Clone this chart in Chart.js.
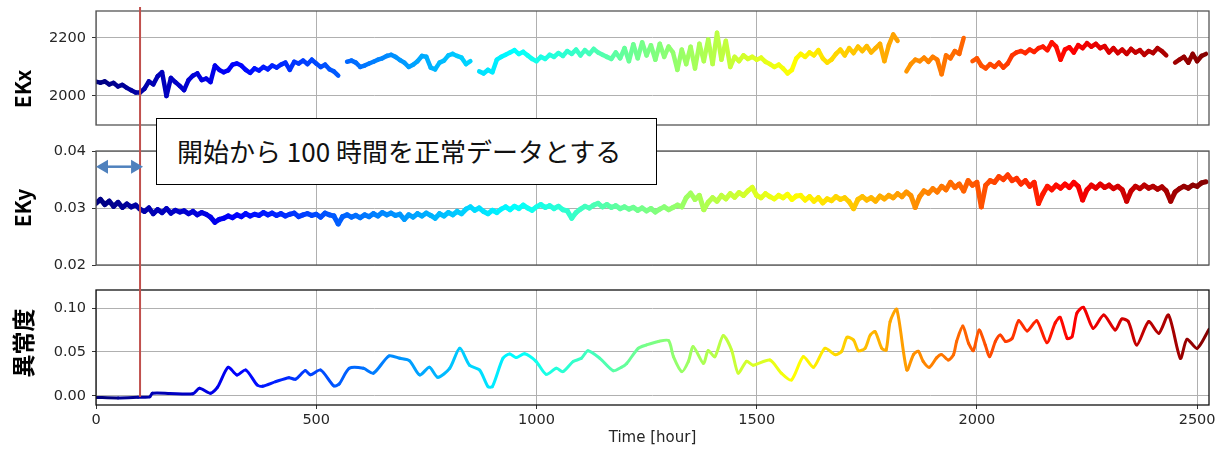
<!DOCTYPE html>
<html>
<head>
<meta charset="utf-8">
<script src="https://cdn.jsdelivr.net/npm/chart.js@4.4.0/dist/chart.umd.min.js"></script>
<style>
  body { margin: 0; background: #fff; }
  #wrap { position: relative; width: 1222px; height: 450px; overflow: hidden; }
  #wrap canvas { position: absolute; left: 0; }
  .ylab {
    position: absolute; left: 22px;
    font-family: "Noto Sans CJK JP", sans-serif; font-weight: bold; color: #000;
    transform: translate(-50%, -50%) rotate(-90deg); white-space: nowrap; line-height: 1;
  }
  #note {
    position: absolute; left: 156px; top: 118px; width: 501px; height: 67px;
    box-sizing: border-box; border: 1.5px solid #000; background: #fff;
    font-family: "Noto Sans CJK JP", sans-serif; font-size: 26px; line-height: 64px;
    padding-left: 20px; white-space: nowrap; color: #111;
  }
</style>
</head>
<body>
<div id="wrap">
  <canvas id="cEkx" width="1222" height="135" style="top:0"></canvas>
  <canvas id="cEky" width="1222" height="140" style="top:135px"></canvas>
  <canvas id="cAnom" width="1222" height="175" style="top:275px"></canvas>
  <div class="ylab" style="top:89px;font-size:21px">EKx</div>
  <div class="ylab" style="top:208px;font-size:21px">EKy</div>
  <div class="ylab" style="top:343px;font-size:23px">異常度</div>
  <div id="note">開始から 100 時間を正常データとする</div>
</div>
<script>
// sampling interval of the EKx / EKy records (hours)
const EK_STEP = 10;
const T_MAX = 2527;
const normalHours = 100;

const timeTicks = [0, 500, 1000, 1500, 2000, 2500];
const ekxTicks = [2000, 2200];
const ekyTicks = [0.02, 0.03, 0.04];
const anomTicks = [0, 0.05, 0.10];

const ekxValues = [
  2049,2046,2050,2040,2045,2033,2038,2028,2020,2012,
  2012,2025,2050,2040,2068,2082,2000,2062,2048,2035,
  2020,2055,2070,2078,2055,2060,2048,2105,2090,2082,
  2088,2108,2112,2105,2090,2080,2095,2088,2100,2092,
  2105,2098,2108,2115,2090,2118,2112,2122,2110,2125,
  2112,2100,2108,2092,2085,2070,null,2118,2122,2115,
  2100,2105,2112,2118,2125,2130,2138,2142,2135,2124,
  2115,2100,2108,2120,2138,2135,2098,2092,2115,2122,
  2140,2145,2138,2132,2110,2120,null,2085,2078,2090,
  2082,2125,2135,2142,2150,2158,2145,2152,2140,2128,
  2120,2135,2128,2142,2135,2148,2138,2155,2145,2160,
  2140,2158,2145,2162,2150,2142,2135,2128,2150,2130,
  2165,2120,2178,2130,2185,2140,2175,2125,2180,2135,
  2170,2150,2090,2160,2110,2170,2095,2180,2120,2195,
  2110,2218,2125,2190,2100,2135,2120,2140,2128,2135,
  2125,2132,2118,2110,2100,2108,2095,2078,2090,2130,
  2145,2135,2150,2140,2158,2130,2115,2125,2145,2160,
  2140,2165,2148,2170,2155,2172,2150,2165,2180,2120,
  2175,2212,2190,null,2085,2110,2125,2120,2132,2118,
  2135,2125,2075,2140,2130,2155,2145,2200,null,2120,
  2130,2105,2095,2110,2100,2115,2098,2112,2140,2150,
  2155,2148,2160,2152,2165,2170,2158,2185,2170,2125,
  2160,2168,2150,2175,2165,2182,2170,2180,2165,2172,
  2150,2165,2148,2160,2145,2162,2150,2158,2142,2155,
  2148,2165,2155,2140,null,2115,2125,2135,2115,2145,
  2120,2138,2145
];

const ekyValues = [
  0.0308,0.0315,0.0306,0.0312,0.0303,0.0310,0.0301,0.0307,0.0302,0.0305,
  0.0298,0.0294,0.0300,0.0290,0.0297,0.0292,0.0299,0.0291,0.0296,0.0293,
  0.0295,0.0290,0.0294,0.0288,0.0292,0.0289,0.0284,0.0275,0.0280,0.0282,
  0.0286,0.0283,0.0288,0.0285,0.0290,0.0286,0.0289,0.0287,0.0292,0.0288,
  0.0291,0.0287,0.0290,0.0286,0.0289,0.0291,0.0285,0.0288,0.0290,0.0287,
  0.0289,0.0284,0.0291,0.0288,0.0286,0.0272,0.0285,0.0288,0.0284,0.0287,
  0.0283,0.0288,0.0285,0.0290,0.0286,0.0292,0.0288,0.0291,0.0287,0.0289,
  0.0280,0.0288,0.0284,0.0290,0.0286,0.0291,0.0287,0.0282,0.0290,0.0286,
  0.0292,0.0288,0.0294,0.0290,0.0298,0.0302,0.0296,0.0300,0.0294,0.0290,
  0.0296,0.0292,0.0298,0.0302,0.0297,0.0303,0.0299,0.0305,0.0300,0.0296,
  0.0302,0.0306,0.0301,0.0304,0.0299,0.0303,0.0297,0.0295,0.0282,0.0292,
  0.0298,0.0303,0.0300,0.0305,0.0308,0.0302,0.0306,0.0301,0.0304,0.0299,
  0.0302,0.0298,0.0301,0.0296,0.0300,0.0295,0.0299,0.0293,0.0298,0.0302,
  0.0297,0.0301,0.0305,0.0302,0.0318,0.0326,0.0315,0.0322,0.0297,0.0310,
  0.0318,0.0312,0.0322,0.0316,0.0325,0.0319,0.0327,0.0322,0.0330,0.0336,
  0.0322,0.0318,0.0325,0.0320,0.0316,0.0322,0.0318,0.0324,0.0315,0.0321,
  0.0322,0.0314,0.0320,0.0312,0.0318,0.0309,0.0316,0.0313,0.0320,0.0315,
  0.0318,0.0311,0.0299,0.0315,0.0320,0.0314,0.0318,0.0312,0.0321,0.0316,
  0.0322,0.0318,0.0325,0.0320,0.0328,0.0322,0.0301,0.0320,0.0330,0.0326,
  0.0334,0.0328,0.0338,0.0332,0.0345,0.0336,0.0342,0.0330,0.0348,0.0340,
  0.0345,0.0302,0.0340,0.0348,0.0345,0.0355,0.0350,0.0358,0.0348,0.0352,
  0.0342,0.0348,0.0338,0.0345,0.0308,0.0325,0.0338,0.0332,0.0340,0.0335,
  0.0342,0.0336,0.0345,0.0338,0.0314,0.0332,0.0340,0.0335,0.0342,0.0336,
  0.0340,0.0334,0.0338,0.0332,0.0312,0.0330,0.0338,0.0334,0.0340,0.0335,
  0.0338,0.0333,0.0337,0.0330,0.0312,0.0328,0.0334,0.0338,0.0335,0.0340,
  0.0338,0.0344,0.0346
];

const anomHours = [
  0,50,95,122,128,168,220,235,260,276,300,320,340,366,378,408,438,453,475,487,
  510,540,552,575,607,630,665,690,712,735,757,776,803,826,848,871,890,900,924,939,
  954,973,999,1022,1045,1060,1083,1102,1117,1144,1174,1193,1205,1231,1250,1277,1300,1311,1330,1345,
  1356,1379,1390,1405,1424,1443,1458,1477,1492,1530,1556,1579,1606,1629,1655,1678,1693,1705,1720,1731,
  1746,1758,1769,1784,1794,1803,1818,1841,1856,1867,1878,1892,1909,1920,1935,1947,1954,1968,1981,1992,
  2005,2019,2029,2042,2053,2065,2080,2095,2114,2136,2159,2178,2189,2205,2216,2227,2242,2264,2288,2314,
  2329,2344,2363,2390,2413,2435,2462,2477,2500,2527
];
const anomValues = [
  -0.0017,-0.0022,-0.0015,-0.0010,0.0030,0.0028,0.0025,0.0087,0.0030,0.0100,
  0.0326,0.0239,0.0295,0.0125,0.0110,0.0163,0.0208,0.0190,0.0288,0.0240,
  0.0295,0.0114,0.0135,0.0314,0.0314,0.0260,0.0455,0.0428,0.0400,0.0239,
  0.0326,0.0212,0.0314,0.0542,0.0350,0.0295,0.0106,0.0106,0.0428,0.0477,
  0.0436,0.0480,0.0394,0.0246,0.0314,0.0277,0.0390,0.0428,0.0515,0.0428,
  0.0288,0.0326,0.0370,0.0542,0.0580,0.0620,0.0630,0.0447,0.0277,0.0394,
  0.0561,0.0370,0.0515,0.0447,0.0686,0.0523,0.0260,0.0394,0.0350,0.0409,
  0.0260,0.0182,0.0447,0.0326,0.0542,0.0470,0.0508,0.0667,0.0636,0.0515,
  0.0542,0.0693,0.0731,0.0542,0.0523,0.0845,0.0985,0.0295,0.0470,0.0508,
  0.0394,0.0326,0.0436,0.0470,0.0409,0.0470,0.0620,0.0795,0.0600,0.0515,
  0.0750,0.0580,0.0447,0.0620,0.0693,0.0620,0.0655,0.0856,0.0740,0.0856,
  0.0606,0.0833,0.0894,0.0655,0.0674,0.0940,0.1008,0.0769,0.0920,0.0750,
  0.0875,0.0845,0.0580,0.0845,0.0712,0.0920,0.0428,0.0644,0.0542,0.0758
];

// matplotlib-style "jet" colour for a 0..1 position
function jet(f) {
  const c = v => Math.round(255 * Math.min(1, Math.max(0, v)));
  return 'rgb(' + c(1.5 - Math.abs(4 * f - 3)) + ',' + c(1.5 - Math.abs(4 * f - 2)) + ',' + c(1.5 - Math.abs(4 * f - 1)) + ')';
}

function timeSeries(hours, values, width, tension) {
  return {
    data: values.map((v, i) => ({ x: hours[i], y: v })),
    borderWidth: width,
    pointRadius: 0,
    tension: tension,
    spanGaps: false,
    borderCapStyle: 'round',
    borderJoinStyle: 'round',
    segment: { borderColor: ctx => jet(ctx.p0.parsed.x / T_MAX) }
  };
}

const tickFont = { family: 'DejaVu Sans', size: 14.5 };

// box around each panel, drawn on top of the data like matplotlib spines
const framePlugin = {
  id: 'frame',
  afterDatasetsDraw(chart, args, opts) {
    const a = chart.chartArea, ctx = chart.ctx;
    ctx.save();
    ctx.strokeStyle = opts.color;
    ctx.lineWidth = 1.3;
    ctx.strokeRect(a.left, a.top, a.right - a.left, a.bottom - a.top);
    ctx.restore();
  }
};

// red marker at the end of the normal period, plus the span arrow
const markerPlugin = {
  id: 'marker',
  afterDraw(chart, args, opts) {
    const ctx = chart.ctx, xs = chart.scales.x;
    const x = xs.getPixelForValue(normalHours);
    const y0 = opts.from, y1 = opts.to === 'zero' ? chart.scales.y.getPixelForValue(0) + 1 : chart.height;
    ctx.save();
    ctx.strokeStyle = '#c0504d';
    ctx.lineWidth = 2;
    ctx.beginPath();
    ctx.moveTo(x, y0);
    ctx.lineTo(x, y1);
    ctx.stroke();
    if (opts.arrowY != null) {
      const xa = xs.getPixelForValue(0), xb = x + 3, y = opts.arrowY;
      const hl = 12, hw = 7;
      ctx.strokeStyle = ctx.fillStyle = '#4f81bd';
      ctx.lineWidth = 2.5;
      ctx.beginPath();
      ctx.moveTo(xa + hl, y);
      ctx.lineTo(xb - hl, y);
      ctx.stroke();
      ctx.beginPath();
      ctx.moveTo(xa, y); ctx.lineTo(xa + hl, y - hw); ctx.lineTo(xa + hl, y + hw); ctx.closePath();
      ctx.fill();
      ctx.beginPath();
      ctx.moveTo(xb, y); ctx.lineTo(xb - hl, y - hw); ctx.lineTo(xb - hl, y + hw); ctx.closePath();
      ctx.fill();
    }
    ctx.restore();
  }
};

// keep the plot box exactly where the layout padding puts it
function noLabelPadding(s) {
  s.paddingTop = 0;
  s.paddingBottom = 0;
  s.paddingLeft = 0;
  s.paddingRight = 0;
}

function panel(id, dataset, y, opts) {
  return new Chart(document.getElementById(id), {
    type: 'line',
    data: { datasets: [dataset] },
    options: {
      responsive: false,
      animation: false,
      devicePixelRatio: 1,
      layout: { padding: opts.padding },
      plugins: {
        legend: { display: false },
        tooltip: { enabled: false },
        frame: { color: opts.frameColor },
        marker: opts.marker
      },
      scales: {
        x: {
          type: 'linear',
          min: 0,
          max: T_MAX,
          afterBuildTicks: s => { s.ticks = timeTicks.map(v => ({ value: v })); },
          afterFit: s => { s.height = opts.xHeight; noLabelPadding(s); },
          border: { display: false },
          grid: { color: '#b0b0b0', lineWidth: 1, drawTicks: opts.showTime, tickLength: 4, tickColor: '#333' },
          ticks: { display: opts.showTime, font: tickFont, color: '#262626', padding: 3, maxRotation: 0,
                   callback: v => String(v) },
          title: {
            display: opts.showTime,
            text: 'Time [hour]',
            font: { family: 'DejaVu Sans', size: 15 },
            color: '#262626',
            padding: { top: 0, bottom: 3 }
          }
        },
        y: {
          min: y.min,
          max: y.max,
          afterBuildTicks: s => { s.ticks = y.ticks.map(v => ({ value: v })); },
          afterFit: s => { s.width = 96; noLabelPadding(s); },
          border: { display: false },
          grid: { color: '#b0b0b0', lineWidth: 1, tickLength: 4, tickColor: '#333' },
          ticks: { font: tickFont, color: '#262626', padding: 6, callback: y.format }
        }
      }
    },
    plugins: [framePlugin, markerPlugin]
  });
}

const ekHours = ekxValues.map((_, i) => i * EK_STEP);

panel('cEkx', timeSeries(ekHours, ekxValues, 4.5, 0),
  { min: 1900, max: 2293, ticks: ekxTicks, format: v => String(v) },
  { padding: { top: 11, right: 13, bottom: 10, left: 0 }, xHeight: 0, showTime: false,
    frameColor: '#555', marker: { from: 7, to: 'end' } });

panel('cEky', timeSeries(ekHours, ekyValues, 5, 0),
  { min: 0.02, max: 0.04, ticks: ekyTicks, format: v => v.toFixed(2) },
  { padding: { top: 16, right: 13, bottom: 10, left: 0 }, xHeight: 0, showTime: false,
    frameColor: '#555', marker: { from: 0, to: 'end', arrowY: 31.7 } });

panel('cAnom', timeSeries(anomHours, anomValues, 3, 0.25),
  { min: -0.0103, max: 0.1205, ticks: anomTicks, format: v => v.toFixed(2) },
  { padding: { top: 15, right: 13, bottom: 0, left: 0 }, xHeight: 45, showTime: true,
    frameColor: '#111', marker: { from: 0, to: 'zero' } });
</script>
</body>
</html>
